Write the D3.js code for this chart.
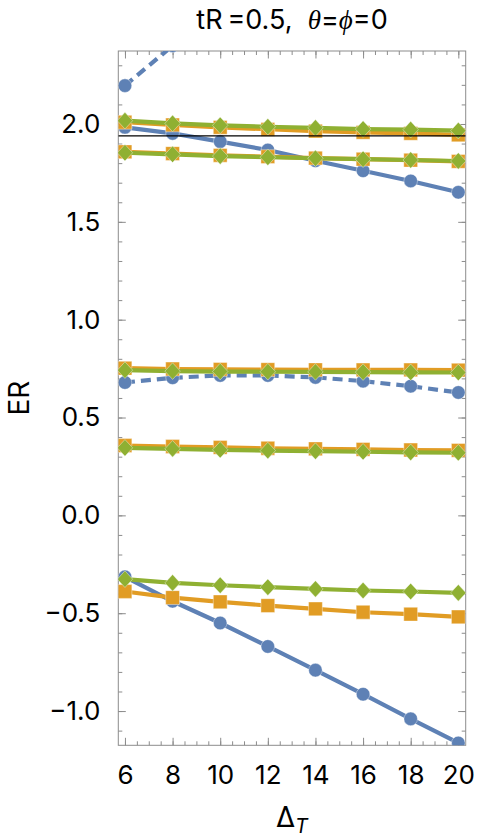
<!DOCTYPE html>
<html>
<head>
<meta charset="utf-8">
<script src="https://cdn.jsdelivr.net/npm/d3@7"></script>
<style>
  body { margin: 0; background: #fff; }
  svg { display: block; font-family: Inter, "Liberation Sans", sans-serif; }
</style>
</head>
<body>
<div id="chart"></div>
<script>
// data
var deltaT = [6, 8, 10, 12, 14, 16, 18, 20];

var blue1 = [1.983, 1.952, 1.910, 1.867, 1.812, 1.761, 1.709, 1.651];
var blue2 = [2.196, 2.400];                // dashed, runs off the top after 8
var blue3 = [0.679, 0.703, 0.715, 0.715, 0.705, 0.686, 0.660, 0.628];
var blue4 = [-0.314, -0.439, -0.550, -0.670, -0.791, -0.914, -1.040, -1.163];

var orange1 = [2.009, 1.995, 1.983, 1.973, 1.964, 1.957, 1.952, 1.944];
var orange2 = [1.858, 1.849, 1.840, 1.833, 1.826, 1.820, 1.815, 1.809];
var orange3 = [0.752, 0.748, 0.746, 0.745, 0.744, 0.743, 0.743, 0.742];
var orange4 = [0.357, 0.352, 0.347, 0.343, 0.340, 0.337, 0.334, 0.332];
var orange5 = [-0.389, -0.420, -0.442, -0.461, -0.478, -0.495, -0.505, -0.519];

var green1 = [2.017, 2.003, 1.993, 1.986, 1.980, 1.974, 1.971, 1.966];
var green2 = [1.853, 1.845, 1.836, 1.830, 1.825, 1.820, 1.816, 1.811];
var green3 = [0.742, 0.737, 0.735, 0.734, 0.733, 0.732, 0.731, 0.730];
var green4 = [0.345, 0.340, 0.335, 0.331, 0.328, 0.325, 0.322, 0.320];
var green5 = [-0.326, -0.345, -0.357, -0.367, -0.376, -0.384, -0.389, -0.396];

var refLine = 1.939;

var yTicks = [-1.0, -0.5, 0.0, 0.5, 1.0, 1.5, 2.0];
var xTicks = [6, 8, 10, 12, 14, 16, 18, 20];

var width = 498, height = 836;
var margin = {left: 118.3, right: 32.3, top: 51, bottom: 90.7};
var w = width - margin.left - margin.right,
    h = height - margin.top - margin.bottom;

var svg = d3.select("#chart").append("svg")
    .attr("width", width)
    .attr("height", height);

var x = d3.scaleLinear().domain([5.72, 20.31]).range([0, w]);
var y = d3.scaleLinear().domain([-1.175, 2.373]).range([h, 0]);

var g = svg.append("g").attr("transform", "translate(" + margin.left + "," + margin.top + ")");

svg.append("defs").append("clipPath").attr("id", "plotclip")
  .append("rect").attr("width", w).attr("height", h);

var frameColor = "#8c8c8c";
var fmt = d3.format(".1f");

// ticks on all four sides, pointing inward
function addAxis(axis, transform) {
    var a = g.append("g").attr("transform", transform).call(axis);
    a.select(".domain").remove();
    a.selectAll("line").attr("stroke", frameColor).attr("stroke-width", 1);
    return a;
}
var yMinor = d3.range(-11, 24).map(function(d) { return d / 10; });
var xMinor = d3.range(12, 41).map(function(d) { return d / 2; });

addAxis(d3.axisLeft(y).tickValues(yMinor).tickSize(-4).tickFormat(""), null);
addAxis(d3.axisRight(y).tickValues(yMinor).tickSize(-4).tickFormat(""), "translate(" + w + ",0)");
addAxis(d3.axisBottom(x).tickValues(xMinor).tickSize(-4).tickFormat(""), "translate(0," + h + ")");
addAxis(d3.axisTop(x).tickValues(xMinor).tickSize(-4).tickFormat(""), null);

var yl = addAxis(d3.axisLeft(y).tickValues(yTicks).tickSize(-7.5).tickPadding(18).tickFormat(fmt), null);
addAxis(d3.axisRight(y).tickValues(yTicks).tickSize(-7.5).tickFormat(""), "translate(" + w + ",0)");
var xl = addAxis(d3.axisBottom(x).tickValues(xTicks).tickSize(-7.5).tickPadding(20).tickFormat(d3.format("d")), "translate(0," + h + ")");
addAxis(d3.axisTop(x).tickValues(xTicks).tickSize(-7.5).tickFormat(""), null);

yl.selectAll("text").style("font-size", "26px").style("font-family", "Inter, sans-serif").attr("fill", "#000");
xl.selectAll("text").style("font-size", "26px").style("font-family", "Inter, sans-serif").attr("fill", "#000");

g.append("rect")
    .attr("width", w).attr("height", h)
    .attr("fill", "none")
    .attr("stroke", frameColor)
    .attr("stroke-width", 1);

var plot = g.append("g").attr("clip-path", "url(#plotclip)");

var colors = {blue: "#5e81b5", orange: "#e19c24", green: "#8fb032"};

var line = d3.line()
    .x(function(d) { return x(d[0]); })
    .y(function(d) { return y(d[1]); });

function drawSeries(values, color, shape, dashed) {
    var pts = values.map(function(v, i) { return [deltaT[i], v]; });
    plot.append("path")
        .datum(pts)
        .attr("fill", "none")
        .attr("stroke", color)
        .attr("stroke-width", 4.2)
        .attr("stroke-dasharray", dashed ? "10,6" : null)
        .attr("d", line);
    var m = plot.append("g").selectAll("path").data(pts).enter().append("path")
        .attr("transform", function(d) { return "translate(" + x(d[0]) + "," + y(d[1]) + ")"; })
        .attr("fill", color)
        .attr("stroke", "#fff")
        .attr("stroke-opacity", 0.5)
        .attr("stroke-width", 0.8);
    if (shape == "circle") {
        m.attr("d", d3.symbol().type(d3.symbolCircle).size(Math.PI * 6.8 * 6.8));
    } else if (shape == "square") {
        m.attr("d", "M-6.9,-6.9H6.9V6.9H-6.9Z");
    } else {
        m.attr("d", "M0,-8.3L7.7,0L0,8.3L-7.7,0Z");
    }
}

drawSeries(blue1, colors.blue, "circle", false);
drawSeries(blue2, colors.blue, "circle", true);
drawSeries(blue3, colors.blue, "circle", true);
drawSeries(blue4, colors.blue, "circle", false);

[orange1, orange2, orange3, orange4, orange5].forEach(function(s) {
    drawSeries(s, colors.orange, "square", false);
});
[green1, green2, green3, green4, green5].forEach(function(s) {
    drawSeries(s, colors.green, "diamond", false);
});

plot.append("line")
    .attr("x1", 0).attr("x2", w)
    .attr("y1", y(refLine)).attr("y2", y(refLine))
    .attr("stroke", "#000")
    .attr("stroke-width", 1.3);

// title
var title = svg.append("text")
    .attr("x", margin.left + w / 2)
    .attr("y", 29)
    .attr("text-anchor", "middle")
    .style("font-size", "27px")
    .attr("fill", "#000");
title.append("tspan").text("tR\u2009=0.5,\u00a0\u00a0");
title.append("tspan").style("font-family", "'Liberation Serif', serif").style("font-style", "italic").text("\u03b8");
title.append("tspan").text("=");
title.append("tspan").style("font-family", "'Liberation Serif', serif").style("font-style", "italic").text("\u03d5");
title.append("tspan").text("=0");

// axis labels
svg.append("text")
    .attr("transform", "translate(29," + (margin.top + h / 2) + ") rotate(-90)")
    .attr("text-anchor", "middle")
    .style("font-size", "28px")
    .attr("fill", "#000")
    .text("ER");

var xlab = svg.append("text")
    .attr("x", margin.left + w / 2)
    .attr("y", 826.5)
    .attr("text-anchor", "middle")
    .style("font-size", "28px")
    .attr("fill", "#000");
xlab.append("tspan").text("\u0394");
xlab.append("tspan").attr("dy", 6).style("font-size", "20px").style("font-style", "italic").text("T");
</script>
</body>
</html>
